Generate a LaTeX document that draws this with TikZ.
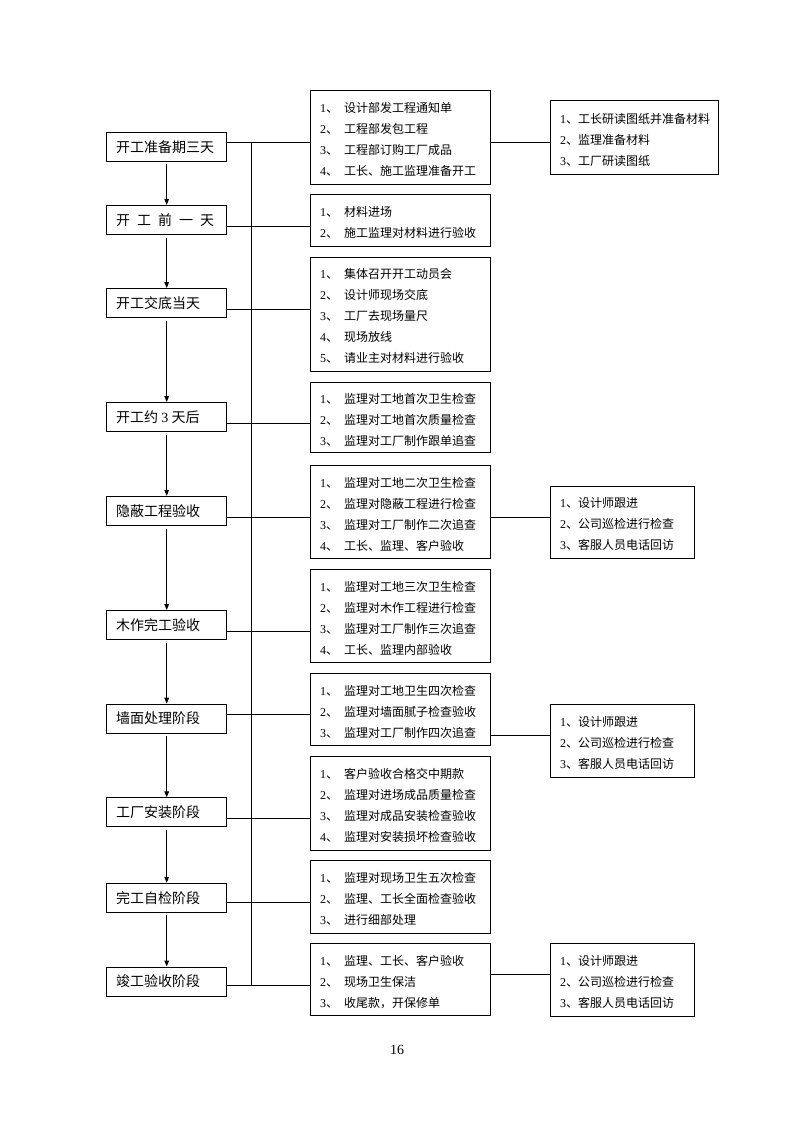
\documentclass[tikz,border=0pt]{standalone}
\usepackage{fontspec}
\setmainfont{Liberation Serif}
\newfontfamily\cjk{Noto Sans CJK SC}
\usetikzlibrary{arrows.meta}
\newcommand\mi[2]{{\rmfamily #1}、\hspace{4.5pt}#2}
\newcommand\ri[2]{{\rmfamily #1}、#2}
\begin{document}
\begin{tikzpicture}[x=0.75pt,y=-0.75pt,
 ln/.style={line width=0.75pt},
 lbox/.style={draw,line width=0.75pt,minimum width=90pt,minimum height=21.75pt,text width=76pt,inner xsep=7pt,inner ysep=0pt,align=left,font=\cjk\fontsize{10.5}{12}\selectfont},
 mbox/.style={draw,line width=0.75pt,minimum width=135pt,text width=120.4pt,inner xsep=7.3pt,inner ysep=0pt,align=left,font=\cjk\fontsize{9}{15.75}\selectfont,execute at begin node={\rule{0pt}{11pt}}},
 rbox/.style={draw,line width=0.75pt,inner xsep=7pt,inner ysep=0pt,align=left,font=\cjk\fontsize{9}{15.75}\selectfont,execute at begin node={\rule{0pt}{11pt}}},
 rwide/.style={rbox,minimum width=126pt,text width=112pt},
 rnarrow/.style={rbox,minimum width=107.7pt,text width=93.7pt},
 arr/.style={line width=0.75pt,-{Triangle[length=4.5pt,width=3.5pt]},shorten <=2pt}
]
\useasboundingbox (0,0) rectangle (794,1123);

% left column
\node[lbox] (L1) at (166.7,146.7) {开工准备期三天};
\node[lbox] (L2) at (166.7,219.85) {开\hspace{5.25pt}工\hspace{5.25pt}前\hspace{5.25pt}一\hspace{5.25pt}天};
\node[lbox] (L3) at (166.7,303) {开工交底当天};
\node[lbox] (L4) at (166.7,417) {开工约\hspace{2.5pt}{\rmfamily 3}\hspace{2.5pt}天后};
\node[lbox] (L5) at (166.7,510.85) {隐蔽工程验收};
\node[lbox] (L6) at (166.7,625) {木作完工验收};
\node[lbox] (L7) at (166.7,718.65) {墙面处理阶段};
\node[lbox] (L8) at (166.7,812.3) {工厂安装阶段};
\node[lbox] (L9) at (166.7,897.8) {完工自检阶段};
\node[lbox] (L10) at (166.7,981.5) {竣工验收阶段};

% middle column
\node[mbox,minimum height=70.3pt] (M1) at (400.3,137.15) {\mi{1}{设计部发工程通知单}\\\mi{2}{工程部发包工程}\\\mi{3}{工程部订购工厂成品}\\\mi{4}{工长、施工监理准备开工}};
\node[mbox,minimum height=38.8pt] (M2) at (400.3,220.15) {\mi{1}{材料进场}\\\mi{2}{施工监理对材料进行验收}};
\node[mbox,minimum height=85.3pt] (M3) at (400.3,314.15) {\mi{1}{集体召开开工动员会}\\\mi{2}{设计师现场交底}\\\mi{3}{工厂去现场量尺}\\\mi{4}{现场放线}\\\mi{5}{请业主对材料进行验收}};
\node[mbox,minimum height=53pt] (M4) at (400.3,417.65) {\mi{1}{监理对工地首次卫生检查}\\\mi{2}{监理对工地首次质量检查}\\\mi{3}{监理对工厂制作跟单追查}};
\node[mbox,minimum height=69.5pt] (M5) at (400.3,512) {\mi{1}{监理对工地二次卫生检查}\\\mi{2}{监理对隐蔽工程进行检查}\\\mi{3}{监理对工厂制作二次追查}\\\mi{4}{工长、监理、客户验收}};
\node[mbox,minimum height=70pt] (M6) at (400.3,616) {\mi{1}{监理对工地三次卫生检查}\\\mi{2}{监理对木作工程进行检查}\\\mi{3}{监理对工厂制作三次追查}\\\mi{4}{工长、监理内部验收}};
\node[mbox,minimum height=54.2pt] (M7) at (400.3,709.85) {\mi{1}{监理对工地卫生四次检查}\\\mi{2}{监理对墙面腻子检查验收}\\\mi{3}{监理对工厂制作四次追查}};
\node[mbox,minimum height=70.2pt] (M8) at (400.3,803.5) {\mi{1}{客户验收合格交中期款}\\\mi{2}{监理对进场成品质量检查}\\\mi{3}{监理对成品安装检查验收}\\\mi{4}{监理对安装损坏检查验收}};
\node[mbox,minimum height=54.5pt] (M9) at (400.3,897) {\mi{1}{监理对现场卫生五次检查}\\\mi{2}{监理、工长全面检查验收}\\\mi{3}{进行细部处理}};
\node[mbox,minimum height=54.2pt] (M10) at (400.3,979.85) {\mi{1}{监理、工长、客户验收}\\\mi{2}{现场卫生保洁}\\\mi{3}{收尾款，开保修单}};

% right column
\node[rwide,minimum height=55.5pt] (R1) at (634.7,137.3) {\ri{1}{工长研读图纸并准备材料}\\\ri{2}{监理准备材料}\\\ri{3}{工厂研读图纸}};
\node[rnarrow,minimum height=54.2pt] (R2) at (622.5,522.15) {\ri{1}{设计师跟进}\\\ri{2}{公司巡检进行检查}\\\ri{3}{客服人员电话回访}};
\node[rnarrow,minimum height=54.75pt] (R3) at (622.5,740.8) {\ri{1}{设计师跟进}\\\ri{2}{公司巡检进行检查}\\\ri{3}{客服人员电话回访}};
\node[rnarrow,minimum height=54.75pt] (R4) at (622.5,979.8) {\ri{1}{设计师跟进}\\\ri{2}{公司巡检进行检查}\\\ri{3}{客服人员电话回访}};

% connector levels
\coordinate (c1) at (0,142.3);
\coordinate (c2) at (0,226.3);
\coordinate (c3) at (0,309.3);
\coordinate (c4) at (0,423.3);
\coordinate (c5) at (0,517.3);
\coordinate (c6) at (0,631.7);
\coordinate (c7) at (0,714);
\coordinate (c8) at (0,818.3);
\coordinate (c9) at (0,902.3);
\coordinate (c10) at (0,985.3);
\coordinate (r1) at (0,142.3);
\coordinate (r2) at (0,517.3);
\coordinate (r3) at (0,735.3);
\coordinate (r4) at (0,974);
\coordinate (bt) at (251,142.3);
\coordinate (bb) at (251,985.3);

% bus
\draw[ln] (bt) -- (bb);

% left to middle connectors
\draw[ln] (L1.east |- c1) -- (M1.west |- c1);
\draw[ln] (L2.east |- c2) -- (M2.west |- c2);
\draw[ln] (L3.east |- c3) -- (M3.west |- c3);
\draw[ln] (L4.east |- c4) -- (M4.west |- c4);
\draw[ln] (L5.east |- c5) -- (M5.west |- c5);
\draw[ln] (L6.east |- c6) -- (M6.west |- c6);
\draw[ln] (L7.east |- c7) -- (M7.west |- c7);
\draw[ln] (L8.east |- c8) -- (M8.west |- c8);
\draw[ln] (L9.east |- c9) -- (M9.west |- c9);
\draw[ln] (L10.east |- c10) -- (M10.west |- c10);

% middle to right connectors
\draw[ln] (M1.east |- r1) -- (R1.west |- r1);
\draw[ln] (M5.east |- r2) -- (R2.west |- r2);
\draw[ln] (M7.east |- r3) -- (R3.west |- r3);
\draw[ln] (M10.east |- r4) -- (R4.west |- r4);

% arrows
\draw[arr] (L1.south) -- (L2.north);
\draw[arr] (L2.south) -- (L3.north);
\draw[arr] (L3.south) -- (L4.north);
\draw[arr] (L4.south) -- (L5.north);
\draw[arr] (L5.south) -- (L6.north);
\draw[arr] (L6.south) -- (L7.north);
\draw[arr] (L7.south) -- (L8.north);
\draw[arr] (L8.south) -- (L9.north);
\draw[arr] (L9.south) -- (L10.north);

% page number
\node[font=\fontsize{10.5}{12}\selectfont] (pg) at (397,1049.7) {16};
\end{tikzpicture}
\end{document}
